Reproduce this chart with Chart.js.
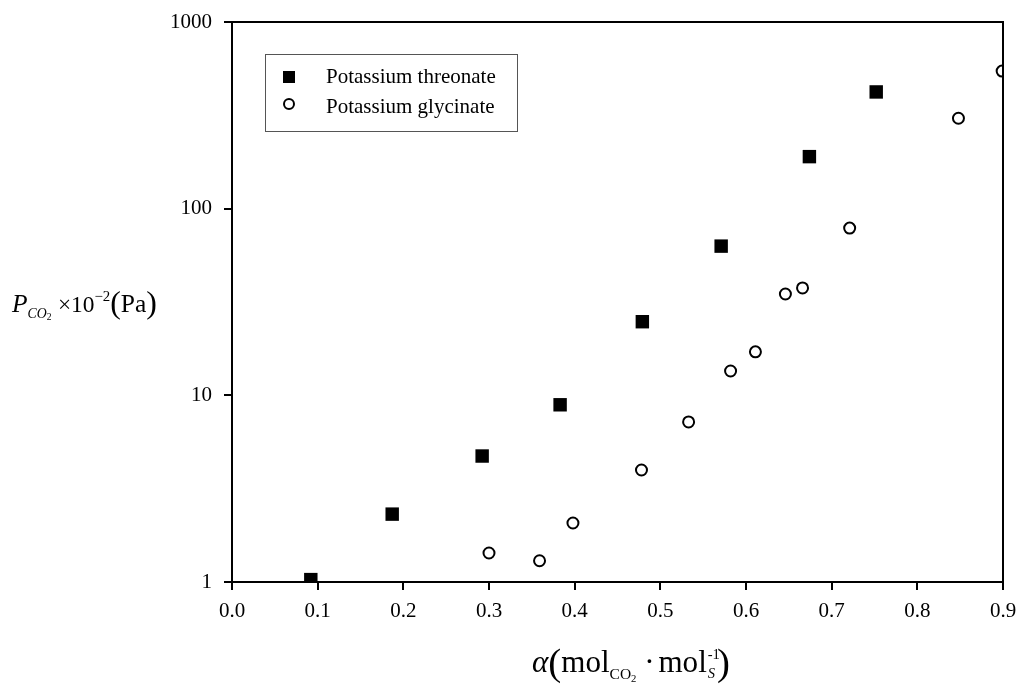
<!DOCTYPE html>
<html>
<head>
<meta charset="utf-8">
<script src="https://cdn.jsdelivr.net/npm/chart.js@4.4.0/dist/chart.umd.min.js"></script>
<style>
  body { margin: 0; background: #fff; }
  #wrap { width: 1020px; height: 684px; }
</style>
</head>
<body>
<div id="wrap"><canvas id="vle_chart"></canvas></div>
<script>
// CO2 loading (mol CO2 / mol salt) and CO2 partial pressure (x10^-2 Pa)
var threonate_alpha = [0.092, 0.187, 0.292, 0.383, 0.479, 0.571, 0.674, 0.752];
var threonate_p = [1.03, 2.31, 4.73, 8.9, 24.8, 63, 190, 422];

var glycinate_alpha = [0.300, 0.359, 0.398, 0.478, 0.533, 0.582, 0.611, 0.646, 0.666, 0.721, 0.848, 0.899];
var glycinate_p = [1.43, 1.30, 2.07, 3.98, 7.2, 13.5, 17.1, 34.9, 37.6, 78.7, 305, 546];

var x_ticks = [0, 0.1, 0.2, 0.3, 0.4, 0.5, 0.6, 0.7, 0.8, 0.9];
var y_ticks = [1, 10, 100, 1000];
var series_names = ["Potassium threonate", "Potassium glycinate"];

var SERIF = "'Liberation Serif', 'DejaVu Serif', serif";

function toPoints(xs, ys) {
    var pts = [];
    for (var i in xs) {
        pts.push({ x: xs[i], y: ys[i] });
    }
    return pts;
}

// draw a run of text pieces (for sub/superscripts), scaled to a target width
function drawRuns(ctx, x, y, width, runs) {
    ctx.save();
    var total = 0;
    for (var i in runs) {
        var r = runs[i];
        ctx.font = (r.style || "") + " " + r.size + "px " + SERIF;
        if (!r.stay) total += ctx.measureText(r.t).width + (r.gap || 0);
    }
    var k = width / total;
    ctx.fillStyle = "#000";
    ctx.textBaseline = "alphabetic";
    ctx.textAlign = "left";
    for (var j in runs) {
        var q = runs[j];
        ctx.font = (q.style || "") + " " + (q.size * k) + "px " + SERIF;
        ctx.fillText(q.t, x, y + (q.dy || 0) * k);
        if (!q.stay) x += ctx.measureText(q.t).width + (q.gap || 0) * k;
    }
    ctx.restore();
}

var extras = {
    id: "extras",
    afterDraw: function(chart) {
        var ctx = chart.ctx;
        var a = chart.chartArea;

        // frame top and right
        ctx.save();
        ctx.strokeStyle = "#000";
        ctx.lineWidth = 2;
        ctx.beginPath();
        ctx.moveTo(a.left, a.top);
        ctx.lineTo(a.right, a.top);
        ctx.lineTo(a.right, a.bottom);
        ctx.stroke();
        ctx.restore();

        // legend box
        ctx.save();
        ctx.strokeStyle = "#555";
        ctx.lineWidth = 1;
        ctx.strokeRect(265.5, 54.5, 252, 77);
        ctx.fillStyle = "#000";
        ctx.fillRect(283, 71, 12, 12);
        ctx.beginPath();
        ctx.arc(289, 104, 5, 0, Math.PI * 2);
        ctx.lineWidth = 2;
        ctx.strokeStyle = "#000";
        ctx.fillStyle = "#fff";
        ctx.fill();
        ctx.stroke();
        ctx.fillStyle = "#000";
        ctx.font = "21px " + SERIF;
        ctx.textBaseline = "middle";
        ctx.fillText(series_names[0], 326, 77);
        ctx.fillText(series_names[1], 326, 107);
        ctx.restore();

        // y axis title
        drawRuns(ctx, 12, 312, 145, [
            { t: "P", size: 24, style: "italic" },
            { t: "CO", size: 13, style: "italic", dy: 6 },
            { t: "2", size: 9, dy: 8, gap: 6 },
            { t: "\u00d710", size: 22 },
            { t: "\u22122", size: 14, dy: -10 },
            { t: "(", size: 30, dy: 1 },
            { t: "Pa", size: 24 },
            { t: ")", size: 30, dy: 1 }
        ]);

        // x axis title
        drawRuns(ctx, 532, 672, 198, [
            { t: "\u03b1", size: 32, style: "italic" },
            { t: "(", size: 40, dy: 3 },
            { t: "mol", size: 32 },
            { t: "CO", size: 16, dy: 7 },
            { t: "2", size: 11, dy: 10, gap: 8 },
            { t: "\u00b7", size: 32, gap: 4 },
            { t: "mol", size: 32, gap: 1 },
            { t: "-1", size: 15, dy: -13, stay: true },
            { t: "S", size: 15, style: "italic", dy: 6, gap: 2 },
            { t: ")", size: 40, dy: 3 }
        ]);
    }
};

var canvas = document.getElementById("vle_chart");

var vle_chart = new Chart(canvas, {
    type: "scatter",
    data: {
        datasets: [{
            label: series_names[0],
            data: toPoints(threonate_alpha, threonate_p),
            pointStyle: "rect",
            pointRadius: 9.5,
            backgroundColor: "#000",
            borderColor: "#000",
            borderWidth: 0,
        }, {
            label: series_names[1],
            data: toPoints(glycinate_alpha, glycinate_p),
            pointStyle: "circle",
            pointRadius: 5.5,
            backgroundColor: "#fff",
            borderColor: "#000",
            borderWidth: 2,
        }, ],
    },
    options: {
        responsive: true,
        maintainAspectRatio: false,
        animation: false,
        layout: { padding: { left: 0, right: 17, top: 22, bottom: 0 } },
        plugins: {
            legend: { display: false },
            tooltip: { enabled: false },
        },
        scales: {
            x: {
                type: "linear",
                min: 0,
                max: 0.9,
                afterBuildTicks: function(scale) {
                    scale.ticks = x_ticks.map(function(v) { return { value: v }; });
                },
                afterFit: function(scale) {
                    scale.height = 102;
                    scale.paddingLeft = 0;
                    scale.paddingRight = 0;
                },
                ticks: {
                    callback: function(v) { return v.toFixed(1); },
                    color: "#000",
                    font: { family: SERIF, size: 21 },
                    padding: 9,
                    maxRotation: 0,
                    autoSkip: false,
                },
                grid: { drawOnChartArea: false, drawTicks: true, tickLength: 8, color: "#000", lineWidth: 2 },
                border: { display: true, color: "#000", width: 2 },
            },
            y: {
                type: "logarithmic",
                min: 1,
                max: 1000,
                afterBuildTicks: function(scale) {
                    scale.ticks = y_ticks.map(function(v) { return { value: v }; });
                },
                afterFit: function(scale) {
                    scale.width = 232;
                    scale.paddingTop = 0;
                    scale.paddingBottom = 0;
                },
                ticks: {
                    callback: function(v) { return String(v); },
                    color: "#000",
                    font: { family: SERIF, size: 21 },
                    padding: 12,
                    autoSkip: false,
                },
                grid: { drawOnChartArea: false, drawTicks: true, tickLength: 8, color: "#000", lineWidth: 2 },
                border: { display: true, color: "#000", width: 2 },
            },
        },
    },
    plugins: [extras],
});
</script>
</body>
</html>
